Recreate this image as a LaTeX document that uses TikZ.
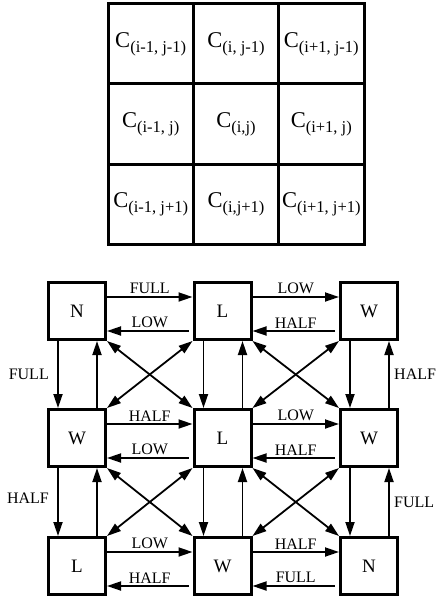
\documentclass[tikz,border=0pt]{standalone}
\usepackage{fontspec}
\setmainfont{Liberation Serif}
\usetikzlibrary{arrows.meta,calc}

\newcommand{\cellname}[1]{{\fontsize{22.5}{22.5}\selectfont C}\raisebox{-5pt}{\fontsize{16.5}{16.5}\selectfont (#1)}}

\begin{document}
\begin{tikzpicture}[x=1pt,y=-1pt,
        state/.style={draw,line width=3pt,minimum size=57pt,inner sep=0pt,font=\fontsize{19}{19}\selectfont},
        trans/.style={-{Triangle[length=14pt,width=9pt]},line width=1.8pt},
        both/.style={{Triangle[length=14pt,width=9pt]}-{Triangle[length=14pt,width=9pt]},line width=1.8pt},
        lab/.style={font=\fontsize{16}{16}\selectfont,inner sep=2pt}]
        \useasboundingbox (0,0) rectangle (438,599);
        % neighbourhood grid
        \draw[line width=3pt] (108,4) rectangle (364,244);
        \foreach \x in {193.3,278.7} \draw[line width=3pt] (\x,4) -- (\x,244);
        \foreach \y in {84,164} \draw[line width=3pt] (108,\y) -- (364,\y);
        \node (c11) at (150.7,44) {\cellname{i-1, j-1}};
        \node (c12) at (236,44) {\cellname{i, j-1}};
        \node (c13) at (321.3,44) {\cellname{i+1, j-1}};
        \node (c21) at (150.7,124) {\cellname{i-1, j}};
        \node (c22) at (236,124) {\cellname{i,j}};
        \node (c23) at (321.3,124) {\cellname{i+1, j}};
        \node (c31) at (150.7,204) {\cellname{i-1, j+1}};
        \node (c32) at (236,204) {\cellname{i,j+1}};
        \node (c33) at (321.3,204) {\cellname{i+1, j+1}};
        % states
        \node [state] (s11) at (77,311) {N};
        \node [state] (s12) at (222.5,311) {L};
        \node [state] (s13) at (369,311) {W};
        \node [state] (s21) at (77,438) {W};
        \node [state] (s22) at (222.5,438) {L};
        \node [state] (s23) at (369,438) {W};
        \node [state] (s31) at (77,566) {L};
        \node [state] (s32) at (222.5,566) {W};
        \node [state] (s33) at (369,566) {N};
        % horizontal transitions
        \foreach \a/\b/\r/\l in {s11/s12/FULL/LOW, s12/s13/LOW/HALF, s21/s22/HALF/LOW, s22/s23/LOW/HALF, s31/s32/LOW/HALF, s32/s33/HALF/FULL} {
                \draw[trans] ([yshift=-16pt]\a.north east) -- node[lab,above] {\r} ([yshift=-16pt]\b.north west);
                \draw[trans,shorten <=4pt] ([yshift=-50pt]\b.north west) -- node[lab,above] {\l} ([yshift=-50pt]\a.north east);
        }
        % vertical transitions
        \foreach \a/\b in {s11/s21, s21/s31, s12/s22, s22/s32, s13/s23, s23/s33} {
                \draw[trans] ([xshift=11pt]\a.south west) -- ([xshift=11pt]\b.north west);
                \draw[trans] ([xshift=-10pt]\b.north east) -- ([xshift=-10pt]\a.south east);
        }
        \node [lab,left=7pt] at ([xshift=11pt]$(s11.south west)!0.5!(s21.north west)$) {FULL};
        \node [lab,left=7pt] at ([xshift=11pt,yshift=4pt]$(s21.south west)!0.5!(s31.north west)$) {HALF};
        \node [lab,right=3pt] at ([xshift=-10pt]$(s13.south east)!0.5!(s23.north east)$) {HALF};
        \node [lab,right=3pt] at ([xshift=-10pt]$(s23.south east)!0.5!(s33.north east)$) {FULL};
        % diagonal transitions
        \foreach \a/\b/\c/\d in {s11/s12/s21/s22, s12/s13/s22/s23, s21/s22/s31/s32, s22/s23/s32/s33} {
                \draw[both] (\a.south east) -- (\d.north west);
                \draw[both] (\b.south west) -- (\c.north east);
        }
\end{tikzpicture}
\end{document}
